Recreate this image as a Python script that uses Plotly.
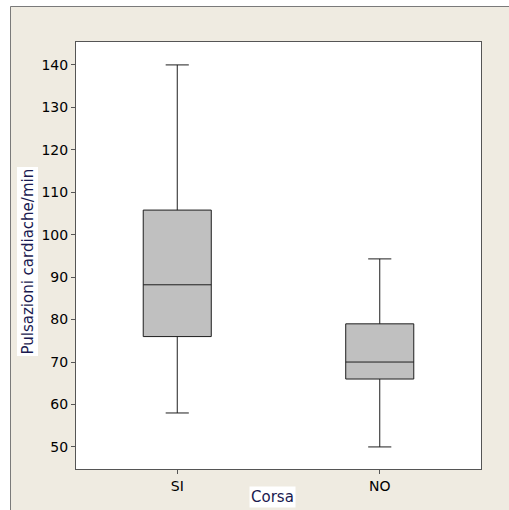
import plotly.graph_objects as go

categories = ["SI", "NO"]
lower_whisker = [58, 50]
q1_values = [76, 66]
median_values = [88.2, 70]
q3_values = [105.8, 79]
upper_whisker = [140, 94.3]
y_ticks = [50, 60, 70, 80, 90, 100, 110, 120, 130, 140]

# plot area on screen: x 76..481, y 42..469
W, H = 509, 510
ML, MT = 76, 42
pw, ph = 405, 427
MR = W - ML - pw
MB = H - MT - ph
BEIGE = "#EFEBE1"

def px_x(x):
    return (x - ML) / pw

def px_y(y):
    return (MT + ph - y) / ph

fig = go.Figure()
fig.add_trace(go.Box(
    x=categories,
    q1=q1_values, median=median_values, q3=q3_values,
    lowerfence=lower_whisker, upperfence=upper_whisker,
    fillcolor="#C0C0C0",
    line=dict(color="#1e1e1e", width=1),
    width=0.336, whiskerwidth=0.34,
    boxpoints=False, hoverinfo="skip", showlegend=False,
))

shapes = [
    # white strips at left and top of the window
    dict(type="rect", xref="paper", yref="paper",
         x0=px_x(-5), x1=px_x(10), y0=px_y(H + 5), y1=px_y(-5),
         fillcolor="white", line=dict(width=0), layer="below"),
    dict(type="rect", xref="paper", yref="paper",
         x0=px_x(-5), x1=px_x(W + 5), y0=px_y(6), y1=px_y(-5),
         fillcolor="white", line=dict(width=0), layer="below"),
    # gray panel border
    dict(type="line", xref="paper", yref="paper",
         x0=px_x(10.5), x1=px_x(10.5), y0=px_y(H + 5), y1=px_y(6.5),
         line=dict(color="#7a7a7a", width=1), layer="below"),
    dict(type="line", xref="paper", yref="paper",
         x0=px_x(10.5), x1=px_x(W + 5), y0=px_y(6.5), y1=px_y(6.5),
         line=dict(color="#7a7a7a", width=1), layer="below"),
    # white plot area
    dict(type="rect", xref="paper", yref="paper",
         x0=0, x1=1, y0=0, y1=1,
         fillcolor="white", line=dict(width=0), layer="below"),
]

annotations = [
    dict(text="Pulsazioni cardiache/min", xref="paper", yref="paper",
         x=px_x(27.5), y=px_y(262), xanchor="center", yanchor="middle",
         textangle=-90, showarrow=False,
         font=dict(family="DejaVu Sans", size=15, color="#1a1a50"),
         bgcolor="white", borderpad=1),
    dict(text="Corsa", xref="paper", yref="paper",
         x=px_x(272), y=px_y(497), xanchor="center", yanchor="middle",
         showarrow=False,
         font=dict(family="DejaVu Sans", size=15, color="#1a1a50"),
         bgcolor="white", borderpad=1),
]

fig.update_layout(
    width=W, height=H,
    margin=dict(l=ML, r=MR, t=MT, b=MB),
    paper_bgcolor=BEIGE, plot_bgcolor="white",
    shapes=shapes, annotations=annotations,
    font=dict(family="DejaVu Sans", size=14, color="#000"),
    xaxis=dict(type="category", range=[-0.5, 1.5], showgrid=False, zeroline=False,
               showline=True, mirror=True, linecolor="#555", linewidth=1,
               ticks="outside", ticklen=4, tickcolor="#555",
               tickfont=dict(family="DejaVu Sans", size=14, color="#000")),
    yaxis=dict(range=[44.8, 145.4], tickvals=y_ticks, showgrid=False, zeroline=False,
               showline=True, mirror=True, linecolor="#555", linewidth=1,
               ticks="outside", ticklen=4, tickcolor="#555",
               tickfont=dict(family="DejaVu Sans", size=14, color="#000")),
)

fig.write_html(
    "out.html",
    config={"displayModeBar": False},
    post_script="document.body.style.margin='0';document.body.style.overflow='hidden';"
                "document.documentElement.style.overflow='hidden';",
)
